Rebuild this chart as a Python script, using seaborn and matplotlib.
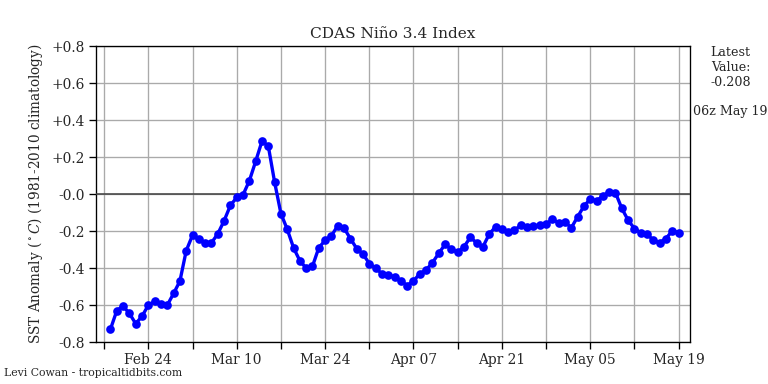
import numpy as np
import pandas as pd
import matplotlib
matplotlib.use("Agg")
import matplotlib.pyplot as plt
import matplotlib.dates as mdates
import seaborn as sns

title = "CDAS Niño 3.4 Index"
ylabel = r"SST Anomaly ($^\circ C$) (1981-2010 climatology)"
credit = "Levi Cowan - tropicaltidbits.com"
latest_text = "Latest\nValue:\n-0.208"
latest_time = "06z May 19"

start_date = "2019-02-18"
anomaly = [
    -0.73, -0.63, -0.605, -0.645, -0.70, -0.66, -0.60, -0.58, -0.595, -0.60,
    -0.537, -0.47, -0.306, -0.222, -0.245, -0.263, -0.263, -0.215, -0.144, -0.061,
    -0.018, -0.004, 0.072, 0.177, 0.286, 0.26, 0.065, -0.105, -0.19, -0.29,
    -0.36, -0.40, -0.39, -0.29, -0.25, -0.225, -0.171, -0.184, -0.24, -0.294,
    -0.324, -0.375, -0.40, -0.43, -0.438, -0.447, -0.47, -0.494, -0.47, -0.43,
    -0.41, -0.371, -0.32, -0.272, -0.297, -0.315, -0.285, -0.234, -0.263, -0.285,
    -0.216, -0.177, -0.191, -0.204, -0.195, -0.168, -0.18, -0.173, -0.168, -0.162,
    -0.137, -0.155, -0.15, -0.182, -0.123, -0.065, -0.027, -0.036, -0.011, 0.012,
    0.007, -0.077, -0.141, -0.186, -0.209, -0.216, -0.249, -0.263, -0.24, -0.198,
    -0.208,
]
dates = pd.date_range(start_date, periods=len(anomaly), freq="D")

ytick_values = [-0.8, -0.6, -0.4, -0.2, 0.0, 0.2, 0.4, 0.6, 0.8]
ytick_labels = ["-0.8", "-0.6", "-0.4", "-0.2", "-0.0", "+0.2", "+0.4", "+0.6", "+0.8"]

df = pd.DataFrame({"date": dates, "anom": anomaly})

sns.set_theme(style="white")
plt.rcParams["font.family"] = ["DejaVu Serif"]
plt.rcParams["mathtext.fontset"] = "dejavuserif"

fig = plt.figure(figsize=(8, 4), dpi=96)
ax = fig.add_axes([0.125, 0.109, 0.773, 0.771])

sns.lineplot(data=df, x="date", y="anom", ax=ax, color="#0000ff", marker="o",
             markersize=6.5, markeredgewidth=0, linewidth=2.5, zorder=5)

ax.axhline(0, color="#444444", linewidth=1.2, zorder=3)

ax.set_ylim(-0.8, 0.8)
ax.set_yticks(ytick_values)
ax.set_yticklabels(ytick_labels)
ax.set_xlim(dates[0] - pd.Timedelta(hours=55), dates[-1] + pd.Timedelta(hours=42))

ax.xaxis.set_major_locator(mdates.WeekdayLocator(byweekday=mdates.SU, interval=2))
ax.xaxis.set_minor_locator(mdates.WeekdayLocator(byweekday=mdates.SU))
ax.xaxis.set_major_formatter(mdates.DateFormatter("%b %d"))

ax.grid(True, which="both", axis="x", color="#aaaaaa", linewidth=1)
ax.grid(True, which="major", axis="y", color="#aaaaaa", linewidth=1)
ax.set_axisbelow(True)

ax.tick_params(axis="both", which="both", direction="out", length=5, width=1,
               color="black", labelsize=10.3, bottom=True, left=True)
ax.tick_params(axis="x", which="both", pad=3)
for s in ax.spines.values():
    s.set_color("black")
    s.set_linewidth(1)

ax.set_xlabel("")
ax.set_ylabel(ylabel, fontsize=10.2, labelpad=5)
ax.set_title(title, fontsize=11.5, pad=6)

fig.text(0.951, 0.88, latest_text, ha="center", va="top", fontsize=9.5, linespacing=1.2)
fig.text(0.951, 0.71, latest_time, ha="center", va="center", fontsize=9.5)
fig.text(0.005, 0.028, credit, ha="left", va="center", fontsize=8.2)

fig.savefig("out.png", dpi=96)
